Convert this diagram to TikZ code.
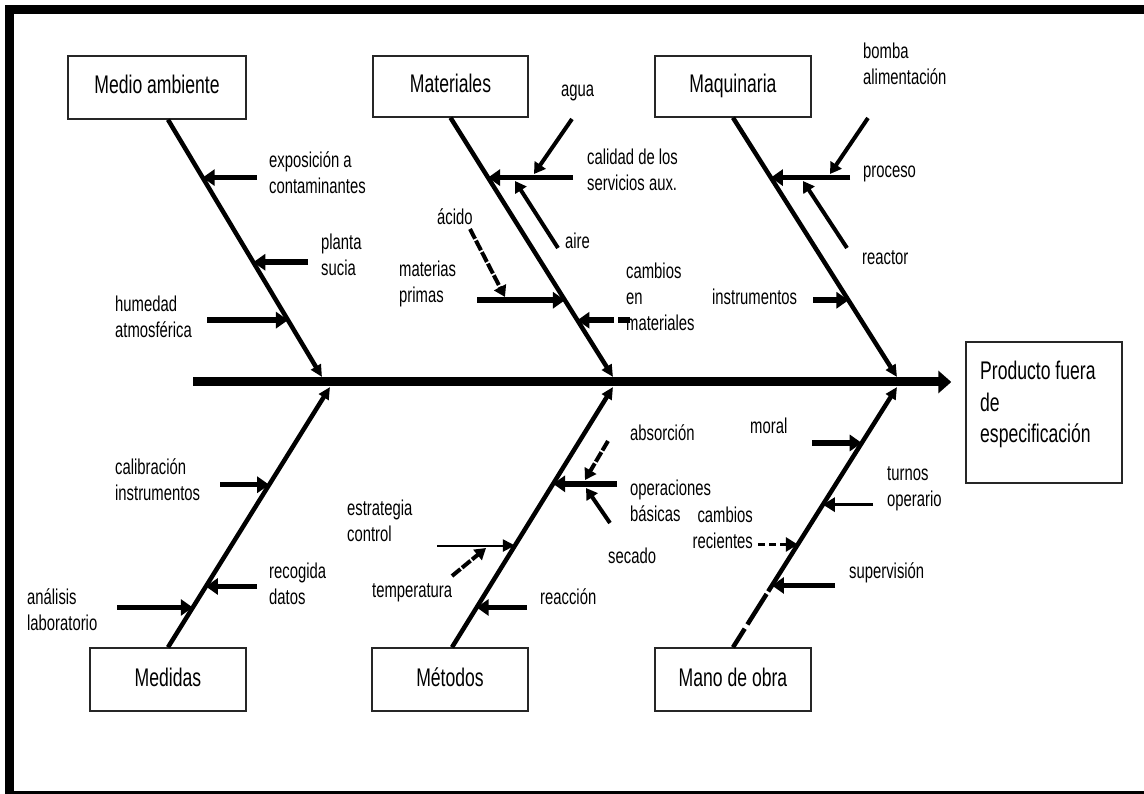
\documentclass[tikz,border=0pt]{standalone}
\usepackage{fontspec}
\setmainfont{Liberation Sans}[FakeStretch=0.69]
\usetikzlibrary{arrows.meta,calc}
% multi-line labels whose baseline is the first line
\newcommand\rowsl[1]{\begin{tabular}[t]{@{}l@{}}#1\end{tabular}}
\newcommand\rowsr[1]{\begin{tabular}[t]{@{}r@{}}#1\end{tabular}}
\tikzset{
  box/.style={draw=black!85, line width=1.4pt, minimum width=156pt, minimum height=61pt,
    inner sep=0pt, font=\fontsize{25.5}{31.5}\selectfont, text height=18pt, text depth=5pt},
  big/.style={inner sep=0pt, font=\fontsize{25.5}{31.5}\selectfont},
  lbl/.style={inner sep=0pt, anchor=base west, font=\fontsize{21.5}{26}\selectfont},
  spine/.style={line width=9pt, -{Triangle[length=13pt,width=22pt]}},
  bone/.style={line width=4.5pt, -{Triangle[length=12pt,width=11pt]}},
  cause/.style={line width=5.5pt, -{Triangle[length=12pt,width=16pt]}},
  slimcause/.style={line width=3.5pt, -{Triangle[length=12pt,width=14pt]}},
  thincause/.style={line width=2pt, -{Triangle[length=12pt,width=12pt]}},
  twig/.style={line width=4pt, -{Triangle[length=11pt,width=13pt]}},
  brokentwig/.style={twig, dash pattern=on 11pt off 2pt},
}
\begin{document}
\begin{tikzpicture}[x=1pt,y=-1pt]
\useasboundingbox (0,0) rectangle (1144,794);
% frame
\draw[line width=9pt] (9.5,10) rectangle (1152,795.5);

% category boxes
\node[box, minimum width=178pt, minimum height=63pt] (ma) at (157,87.5) {Medio ambiente};
\node[box, minimum width=155pt] (mat) at (450.5,86.5) {Materiales};
\node[box] (maq) at (733,86.5) {Maquinaria};
\node[box, minimum height=63pt] (med) at (168,679.5) {Medidas};
\node[box, minimum height=63pt] (met) at (450,679.5) {Métodos};
\node[box, minimum height=63pt] (mo) at (733,679.5) {Mano de obra};

% effect box
\node[box, minimum height=141pt] (prod) at (1044,412.5) {};
\node[big, anchor=base west] (prodtxt) at (980,380) {\rowsl{Producto fuera\\de\\especificación}};

% spine
\coordinate (tail) at (193,382);
\draw[spine, shorten >=14pt] (tail) -- (tail -| prod.west);

% bone roots and joints on the spine
\coordinate (r1) at ([xshift=11pt]ma.south);
\coordinate (r2) at (mat.south);
\coordinate (r3) at (maq.south);
\coordinate (r4) at (med.north);
\coordinate (r5) at ([xshift=2pt]met.north);
\coordinate (r6) at (mo.north);
\coordinate (j1) at (322,377);
\coordinate (j2) at (613,377);
\coordinate (j3) at (897,377);
\coordinate (j4) at (330,387);
\coordinate (j5) at (613,387);
\coordinate (j6) at (897,387);

\draw[bone] (r1) -- (j1);
\draw[bone] (r2) -- (j2);
\draw[bone] (r3) -- (j3);
\draw[bone] (r4) -- (j4);
\draw[bone] (r5) -- (j5);
\draw[bone, dash pattern=on 22pt off 5pt on 36pt off 3pt on 400pt off 1pt] (r6) -- (j6);

% points where the causes meet the bones
\coordinate (a1) at ($(r1)!0.225!(j1)$);
\coordinate (a2) at ($(r1)!0.554!(j1)$);
\coordinate (a3) at ($(r1)!0.779!(j1)$);
\coordinate (b1) at ($(r2)!0.231!(j2)$);
\coordinate (b2) at ($(r2)!0.704!(j2)$);
\coordinate (b3) at ($(r2)!0.781!(j2)$);
\coordinate (c1) at ($(r3)!0.231!(j3)$);
\coordinate (c2) at ($(r3)!0.704!(j3)$);
\coordinate (d1) at ($(r4)!0.6245!(j4)$);
\coordinate (d2) at ($(r4)!0.2337!(j4)$);
\coordinate (d3) at ($(r4)!0.153!(j4)$);
\coordinate (e1) at ($(r5)!0.628!(j5)$);
\coordinate (e2) at ($(r5)!0.391!(j5)$);
\coordinate (e3) at ($(r5)!0.153!(j5)$);
\coordinate (g1) at ($(r6)!0.785!(j6)$);
\coordinate (g2) at ($(r6)!0.548!(j6)$);
\coordinate (g3) at ($(r6)!0.395!(j6)$);
\coordinate (g4) at ($(r6)!0.2375!(j6)$);

% Medio ambiente
\draw[cause] (257,0 |- a1) -- (a1);
\draw[cause] (308,0 |- a2) -- (a2);
\draw[cause] (207,0 |- a3) -- (a3);
\node[lbl] (l-expo) at (269,168) {\rowsl{exposición a\\contaminantes}};
\node[lbl] (l-planta) at (321,250) {\rowsl{planta\\sucia}};
\node[lbl] (l-hum) at (115,312) {\rowsl{humedad\\atmosférica}};

% Materiales
\draw[cause] (573,0 |- b1) -- (b1);
\draw[cause] (477,0 |- b2) -- (b2);
\draw[cause, dash pattern=on 12pt off 4pt on 80pt off 1pt] (630,0 |- b3) -- (b3);
\coordinate (agua0) at (572,119);
\coordinate (agua1) at (534,174);
\coordinate (aire0) at (558,248);
\coordinate (aire1) at (515,181);
\coordinate (acido0) at (470,229);
\coordinate (acido1) at (505,297);
\draw[twig] (agua0) -- (agua1);
\draw[twig] (aire0) -- (aire1);
\draw[brokentwig] (acido0) -- (acido1);
\node[lbl] (l-agua) at (561,97) {agua};
\node[lbl] (l-cal) at (587,165) {\rowsl{calidad de los\\servicios aux.}};
\node[lbl] (l-acido) at (437,225) {ácido};
\node[lbl] (l-aire) at (565,249) {aire};
\node[lbl] (l-matp) at (399,277) {\rowsl{materias\\primas}};
\node[lbl] (l-camb) at (626,279) {\rowsl{cambios\\en\\materiales}};

% Maquinaria
\draw[cause] (850,0 |- c1) -- (c1);
\draw[cause] (813,0 |- c2) -- (c2);
\coordinate (bomba0) at (868,118);
\coordinate (bomba1) at (830,174);
\coordinate (reac0) at (847,248);
\coordinate (reac1) at (803,181);
\draw[twig] (bomba0) -- (bomba1);
\draw[twig] (reac0) -- (reac1);
\node[lbl] (l-bomba) at (863,59) {\rowsl{bomba\\alimentación}};
\node[lbl] (l-proc) at (863,178) {proceso};
\node[lbl] (l-reac) at (862,265) {reactor};
\node[lbl] (l-instr) at (712,305) {instrumentos};

% Medidas
\draw[cause] (220,0 |- d1) -- (d1);
\draw[cause] (257,0 |- d2) -- (d2);
\draw[cause] (117,0 |- d3) -- (d3);
\node[lbl] (l-calib) at (115,474) {\rowsl{calibración\\instrumentos}};
\node[lbl] (l-recog) at (269,578) {\rowsl{recogida\\datos}};
\node[lbl] (l-anal) at (27,604) {\rowsl{análisis\\laboratorio}};

% Métodos
\draw[cause] (617,0 |- e1) -- (e1);
\draw[thincause] (437,0 |- e2) -- (e2);
\draw[cause] (527,0 |- e3) -- (e3);
\coordinate (abs0) at (608,441);
\coordinate (abs1) at (585,480);
\coordinate (sec0) at (610,523);
\coordinate (sec1) at (586,488);
\coordinate (temp0) at (452,576);
\coordinate (temp1) at (486,548);
\draw[brokentwig] (abs0) -- (abs1);
\draw[twig] (sec0) -- (sec1);
\draw[brokentwig] (temp0) -- (temp1);
\node[lbl] (l-abs) at (630,440) {absorción};
\node[lbl] (l-op) at (630,495) {\rowsl{operaciones\\básicas}};
\node[lbl] (l-sec) at (608,563) {secado};
\node[lbl] (l-estr) at (347,515) {\rowsl{estrategia\\control}};
\node[lbl] (l-temp) at (372,597) {temperatura};
\node[lbl] (l-reacc) at (540,604) {reacción};

% Mano de obra
\draw[cause] (812,0 |- g1) -- (g1);
\draw[slimcause] (873,0 |- g2) -- (g2);
\draw[slimcause, dash pattern=on 7pt off 4pt] (758,0 |- g3) -- (g3);
\draw[cause] (835,0 |- g4) -- (g4);
\node[lbl] (l-moral) at (750,433) {moral};
\node[lbl] (l-turn) at (887,480) {\rowsl{turnos\\operario}};
\node[lbl, anchor=base east] (l-crec) at (753,522) {\rowsr{cambios\\recientes}};
\node[lbl] (l-sup) at (849,578) {supervisión};
\end{tikzpicture}
\end{document}
